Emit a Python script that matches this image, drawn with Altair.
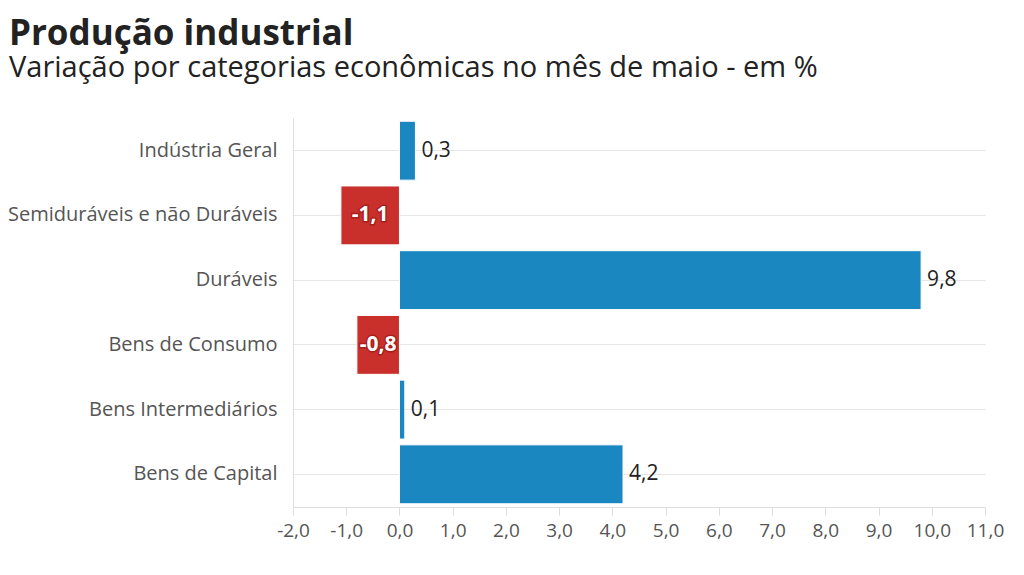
import altair as alt
import pandas as pd

categorias = ["Indústria Geral", "Semiduráveis e não Duráveis", "Duráveis",
              "Bens de Consumo", "Bens Intermediários", "Bens de Capital"]
valores = [0.3, -1.1, 9.8, -0.8, 0.1, 4.2]
ticks = [-2, -1, 0, 1, 2, 3, 4, 5, 6, 7, 8, 9, 10, 11]

df = pd.DataFrame({"cat": categorias, "v": valores})
df["lbl"] = [f"{x:.1f}".replace(".", ",") for x in valores]
df["half"] = df["v"] / 2

FONT = "Open Sans"
BLUE = "#1a87c1"
RED = "#c9302c"

y = alt.Y("cat:N", sort=categorias, title=None,
          scale=alt.Scale(paddingInner=0.09, paddingOuter=0.05),
          axis=alt.Axis(ticks=False, labelPadding=16, labelFontSize=20,
                        labelColor="#555555", labelFont=FONT, grid=True,
                        gridColor="#e6e6e6", domainColor="#dddddd",
                        labelLimit=400, bandPosition=0.5))

x = alt.X("v:Q", title=None,
          scale=alt.Scale(domain=[-2, 11], nice=False, zero=False),
          axis=alt.Axis(values=ticks, grid=False, labelFontSize=19,
                        labelColor="#555555", labelFont=FONT,
                        tickColor="#dddddd", tickSize=8, domainColor="#dddddd",
                        labelPadding=6, labelOverlap=False, labelFlush=False,
                        labelExpr="replace(replace(format(datum.value, '.1f'), '.', ','), '\u2212', '-')"))

base = alt.Chart(df)

bars = base.mark_bar(stroke="white", strokeWidth=1).encode(
    y=y, x=x, x2=alt.datum(0),
    color=alt.condition("datum.v < 0", alt.value(RED), alt.value(BLUE)),
)

pos_lbl = base.transform_filter("datum.v >= 0").mark_text(
    align="left", dx=6, fontSize=21, font=FONT, color="#222222"
).encode(y=alt.Y("cat:N", sort=categorias), x="v:Q", text="lbl:N")

neg_halo = base.transform_filter("datum.v < 0").mark_text(
    align="center", fontSize=21, font=FONT, fontWeight="bold",
    color="white", stroke="#a8201c", strokeWidth=3
).encode(y=alt.Y("cat:N", sort=categorias), x="half:Q", text="lbl:N")

neg_lbl = base.transform_filter("datum.v < 0").mark_text(
    align="center", fontSize=21, font=FONT, fontWeight="bold", color="white"
).encode(y=alt.Y("cat:N", sort=categorias), x="half:Q", text="lbl:N")

chart = alt.layer(bars, pos_lbl, neg_halo, neg_lbl).properties(
    width=692, height=389,
    background="white",
    autosize=alt.AutoSizeParams(type="none"),
    padding={"left": 285, "top": 110, "right": 30, "bottom": 60},
    title=alt.TitleParams(
        "Produção industrial",
        subtitle="Variação por categorias econômicas no mês de maio - em %",
        anchor="start", frame="group", dx=-284, offset=35,
        font=FONT, fontSize=35, fontWeight="bold", color="#222222",
        subtitleFont=FONT, subtitleFontSize=29, subtitleColor="#222222",
        subtitlePadding=2,
    ),
).configure_view(stroke="transparent", strokeWidth=0)

chart.save("out.html", embed_options={"renderer": "svg", "actions": False})
